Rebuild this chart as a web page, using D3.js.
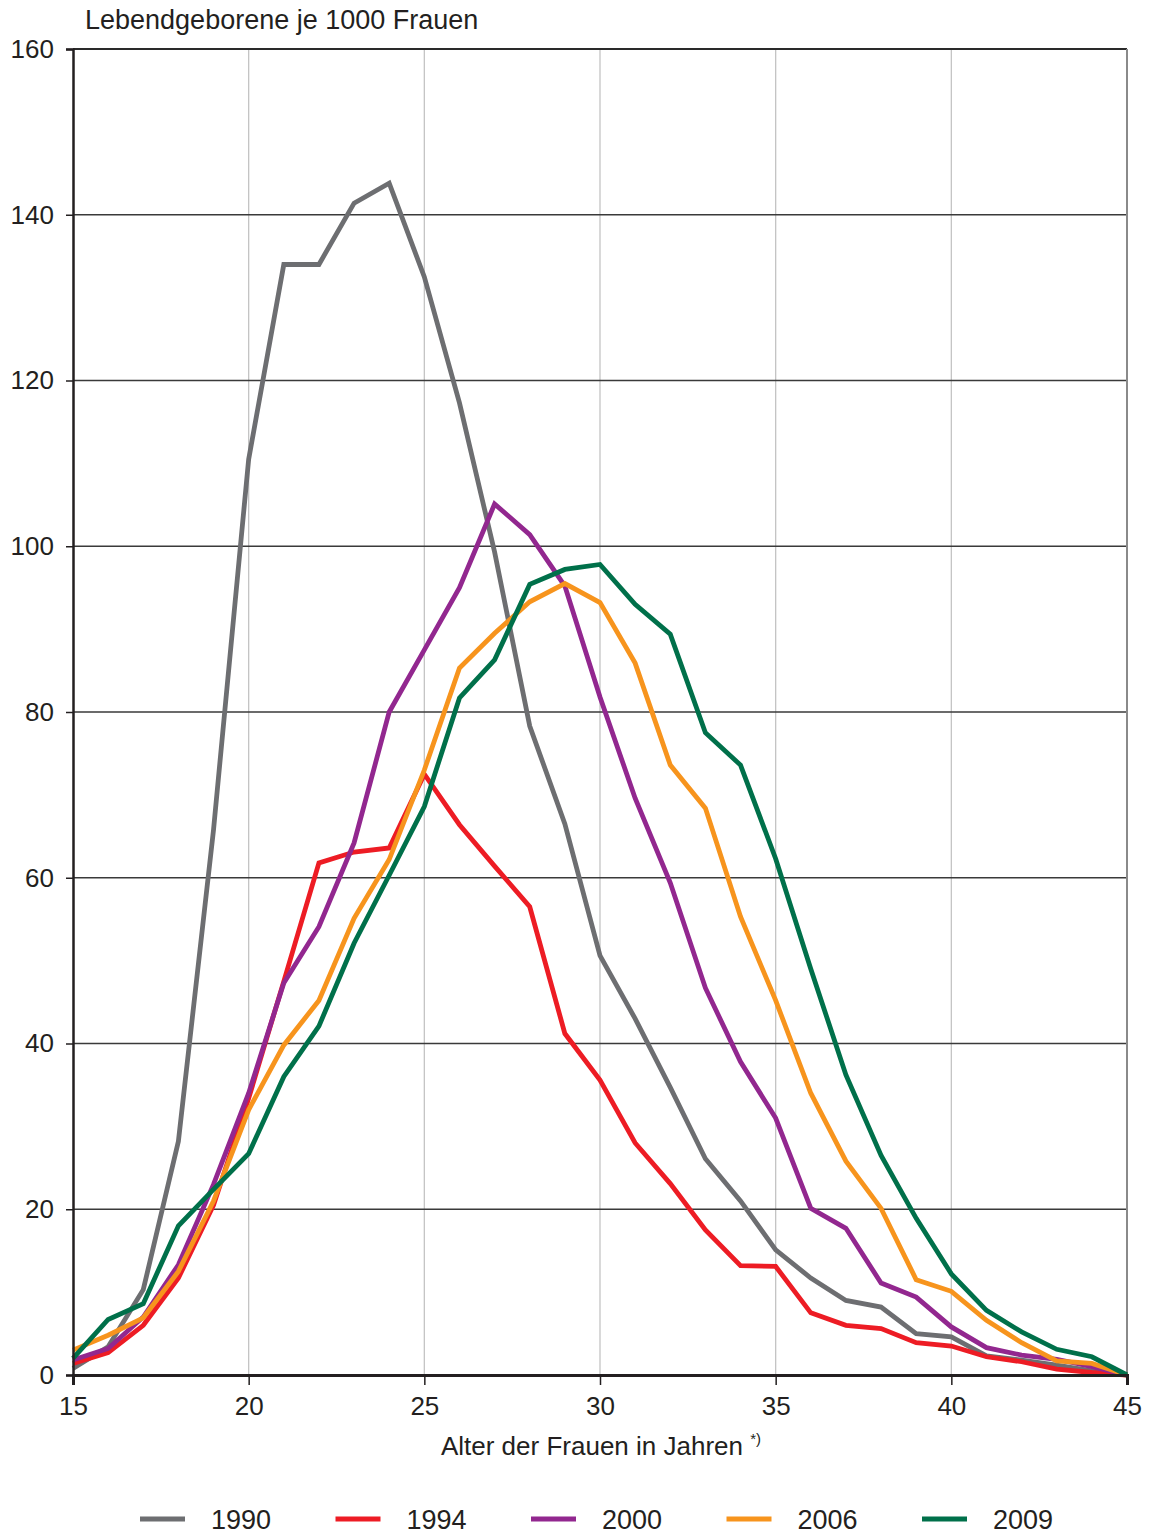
<!DOCTYPE html>
<html>
<head>
<meta charset="utf-8">
<script src="https://cdn.jsdelivr.net/npm/d3@7"></script>
<style>
  body { margin: 0; background: #fff; }
  svg text { fill: #231f20; font-family: "Liberation Sans", Arial, Helvetica, sans-serif; }
</style>
</head>
<body>
<div id="chart"></div>
<script>
"use strict";

// Alter 15..45
var ages = d3.range(15, 46);
var years = ["1990", "1994", "2000", "2006", "2009"];
var colors = ["#6d6e71", "#ed1c24", "#92278f", "#f7941d", "#00704a"];

var v1990 = [0.8, 3.4, 10.3, 28.2, 65.8, 110.5, 134, 134, 141.4, 143.8, 132.5, 117.3, 99.3, 78.3, 66.5,
  50.6, 43, 34.7, 26.1, 21, 15.1, 11.7, 9, 8.2, 5, 4.6, 2.3, 1.8, 1.2, 0.5, 0];
var v1994 = [1.4, 2.7, 6, 11.7, 20.5, 33.4, 47.5, 61.8, 63.1, 63.6, 72.5, 66.4, 61.4, 56.5, 41.2,
  35.6, 28, 23.1, 17.5, 13.2, 13.1, 7.5, 6, 5.6, 3.9, 3.5, 2.2, 1.6, 0.7, 0.3, 0];
var v2000 = [1.8, 3.2, 7, 13.3, 23, 34, 47.3, 54.1, 64.2, 80, 87.5, 95, 105.1, 101.4, 95.2,
  81.8, 69.6, 59.4, 46.7, 37.8, 31, 20.1, 17.7, 11.1, 9.4, 5.8, 3.3, 2.4, 1.9, 1, 0];
var v2006 = [3, 4.8, 6.9, 12.5, 21, 32, 39.8, 45.2, 55.1, 62.2, 73, 85.3, 89.5, 93.3, 95.5,
  93.2, 85.9, 73.6, 68.4, 55.3, 45.2, 34, 25.8, 20.1, 11.5, 10.1, 6.6, 3.9, 1.7, 1.4, 0];
var v2009 = [2, 6.7, 8.6, 18, 22.4, 26.7, 36, 42.1, 52.1, 60.3, 68.6, 81.7, 86.3, 95.4, 97.2,
  97.8, 93, 89.4, 77.5, 73.6, 62.3, 49, 36.2, 26.5, 18.9, 12.2, 7.8, 5.2, 3.1, 2.2, 0];
var series = [v1990, v1994, v2000, v2006, v2009];

var yTicks = [0, 20, 40, 60, 80, 100, 120, 140, 160];
var xTicks = [15, 20, 25, 30, 35, 40, 45];

(function draw() {
  var W = 1149, H = 1536;
  var mLeft = 73, mRight = 1127, mTop = 49, mBottom = 1375;

  var svg = d3.select("#chart").append("svg")
    .attr("width", W).attr("height", H);

  var x = d3.scaleLinear().domain([15, 45]).range([mLeft, mRight]);
  var y = d3.scaleLinear().domain([0, 160]).range([mBottom, mTop]);

  // vertical grid
  svg.append("g").selectAll("line")
    .data(xTicks.filter(function (d) { return d > 15 && d < 45; }))
    .join("line")
    .attr("x1", function (d) { return x(d); }).attr("x2", function (d) { return x(d); })
    .attr("y1", mTop).attr("y2", mBottom)
    .attr("stroke", "#c4c4c4").attr("stroke-width", 1.3);

  // horizontal grid
  svg.append("g").selectAll("line")
    .data(yTicks.filter(function (d) { return d > 0 && d < 160; }))
    .join("line")
    .attr("x1", mLeft).attr("x2", mRight)
    .attr("y1", function (d) { return y(d); }).attr("y2", function (d) { return y(d); })
    .attr("stroke", "#3a3a3a").attr("stroke-width", 1.3);

  // top and right frame
  svg.append("line").attr("x1", mLeft).attr("x2", mRight).attr("y1", y(160)).attr("y2", y(160))
    .attr("stroke", "#2a2a2a").attr("stroke-width", 2);
  svg.append("line").attr("x1", mRight).attr("x2", mRight).attr("y1", mTop).attr("y2", mBottom)
    .attr("stroke", "#8a8a8a").attr("stroke-width", 2);

  // lines
  var line = d3.line()
    .x(function (d, i) { return x(ages[i]); })
    .y(function (d) { return y(d); });

  svg.append("g").selectAll("path")
    .data(series)
    .join("path")
    .attr("d", line)
    .attr("fill", "none")
    .attr("stroke", function (d, i) { return colors[i]; })
    .attr("stroke-width", 4.8)
    .attr("stroke-linejoin", "miter");

  // axes
  var yAxis = svg.append("g")
    .attr("transform", "translate(" + mLeft + ",0)")
    .call(d3.axisLeft(y).tickValues(yTicks).tickSize(7).tickPadding(12));
  yAxis.select(".domain").attr("stroke", "#231f20").attr("stroke-width", 2.5);
  yAxis.selectAll(".tick line").attr("stroke", "#231f20").attr("stroke-width", 1.5);
  yAxis.selectAll(".tick text").attr("font-family", null).attr("font-size", 26).attr("fill", "#231f20");

  var xAxis = svg.append("g")
    .attr("transform", "translate(0," + mBottom + ")")
    .call(d3.axisBottom(x).tickValues(xTicks).tickSize(10).tickPadding(12));
  xAxis.select(".domain").attr("stroke", "#231f20").attr("stroke-width", 3);
  xAxis.selectAll(".tick line").attr("stroke", "#231f20").attr("stroke-width", 1.5);
  xAxis.selectAll(".tick text").attr("font-family", null).attr("font-size", 26).attr("fill", "#231f20");
  svg.selectAll("g").attr("font-family", null);

  // titles
  svg.append("text")
    .attr("x", 85).attr("y", 29)
    .attr("font-size", 27)
    .text("Lebendgeborene je 1000 Frauen");

  var xl = svg.append("text")
    .attr("x", 601).attr("y", 1455)
    .attr("text-anchor", "middle")
    .attr("font-size", 26);
  xl.append("tspan").text("Alter der Frauen in Jahren ");
  xl.append("tspan").attr("font-size", 15).attr("dy", -11).text("*)");

  // legend
  var legend = svg.append("g").selectAll("g")
    .data(years)
    .join("g")
    .attr("transform", function (d, i) { return "translate(" + (140 + i * 195.5) + ",1519)"; });
  legend.append("line")
    .attr("x1", 0).attr("x2", 45)
    .attr("stroke", function (d, i) { return colors[i]; })
    .attr("stroke-width", 5);
  legend.append("text")
    .attr("x", 71).attr("y", 10)
    .attr("font-size", 27)
    .text(function (d) { return d; });
})();
</script>
</body>
</html>
